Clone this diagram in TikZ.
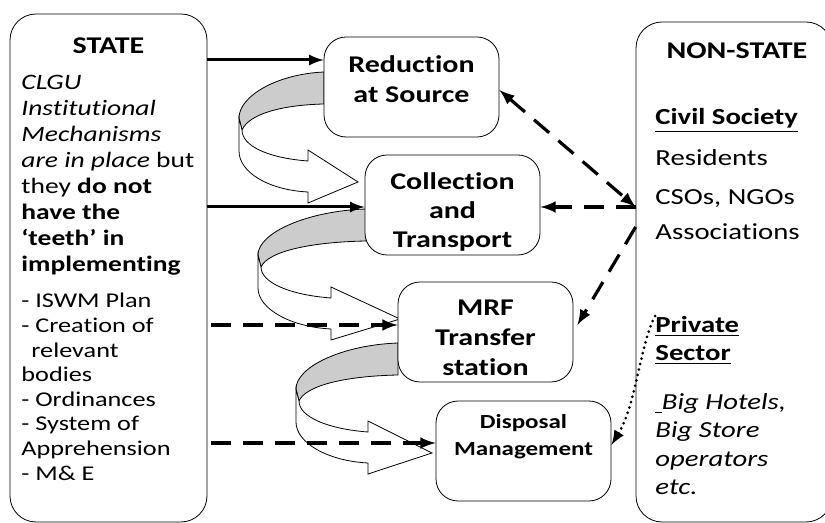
\documentclass[tikz,border=0pt]{standalone}
\usepackage{fontspec}
\setmainfont[FakeStretch=1.25,Ligatures=NoCommon]{Carlito}
\usetikzlibrary{positioning}

\tikzset{
  sidebox/.style={draw,thin,rounded corners=13pt,inner sep=0pt},
  stagebox/.style={draw,thin,fill=white,rounded corners=11pt,minimum width=87.5pt,minimum height=50pt,inner sep=0pt},
  stagetext/.style={align=center,inner sep=0pt,font=\bfseries\fontsize{12}{15}\selectfont},
  bodytext/.style={align=left,inner sep=0pt,font=\fontsize{11}{13}\selectfont},
  link/.style={-latex,line width=1.5pt},
  dashlink/.style={-latex,line width=1.6pt,dash pattern=on 10pt off 6pt},
  dotlink/.style={-latex,line width=1.5pt,line cap=round,dash pattern=on 0pt off 2.8pt},
  band/.style={fill=black!20,draw=black,thin},
  face/.style={fill=white,draw=black,thin}
}

% curled arrow from the left side of one box to the next one
\newcommand{\ribbon}[4]{%
  \draw[band] (#1,#2) .. controls ({#1-0.55*#3},{#2+2}) and ({#1-#3},{#2+24}) .. ({#1-#3},{#2+46})
    -- ({#1-#3+3},{#2+58}) .. controls ({#1-#3+10},{#2+42}) and ({#1-0.5*#3},{#2+33}) .. (#1,{#2+32}) -- cycle;
  \draw[face] ({#1-#3},{#2+46}) -- ({#1-#3},{#2+79})
    .. controls ({#1-#3},{#2+100}) and ({#1+#4-40},{#2+118}) .. ({#1+#4},{#2+120})
    -- ({#1+#4},{#2+131}) -- ({#1+34},{#2+110}) -- ({#1+#4},{#2+78}) -- ({#1+#4},{#2+89})
    .. controls ({#1+#4-40},{#2+86}) and ({#1-#3+3},{#2+74}) .. ({#1-#3+3},{#2+58}) -- cycle;
}

\begin{document}
\begin{tikzpicture}[x=0.5pt,y=-0.5pt]
  \useasboundingbox (0,0) rectangle (825,523);

  % curled arrows between the stages
  \ribbon{324}{72}{85}{-16}
  \ribbon{366}{209}{108}{-35}
  \ribbon{398}{343}{102}{-30}

  % side boxes
  \node[sidebox,minimum width=98.5pt,minimum height=254pt] (state) at (108.5,268) {};
  \node[sidebox,minimum width=98pt,minimum height=250pt] (nonst) at (734,272) {};

  % stages
  \node[stagebox] (red) at (411.5,87) {};
  \node[stagebox] (col) at (452.5,205) {};
  \node[stagebox] (mrf) at (485.5,332) {};
  \node[stagebox] (disp) at (523.5,451) {};
  \node[stagetext] (redtxt) at (411.5,79) {Reduction\\at Source};
  \node[stagetext,font=\bfseries\fontsize{12}{14.5}\selectfont] (coltxt) at (452.5,212) {Collection\\and\\Transport};
  \node[stagetext] (mrftxt) at (485.5,338) {MRF\\Transfer\\station};
  \node[stagetext,font=\bfseries\fontsize{10}{13.5}\selectfont] (disptxt) at (523.5,437) {Disposal\\Management};

  % state side
  \node[font=\bfseries\fontsize{12}{14}\selectfont] (statehd) at (108.5,46) {STATE};
  \node[bodytext,anchor=north west] (statetxt) at (21,75)
    {\textit{CLGU}\\\textit{Institutional}\\\textit{Mechanisms}\\\textit{are in place} but\\they \textbf{do not}\\\textbf{have the}\\\textbf{‘teeth’ in}\\\textbf{implementing}};
  \node[bodytext,anchor=north west,font=\fontsize{10.5}{12.3}\selectfont] (statelist) at (21,293)
    {- ISWM Plan\\- Creation of\\\hspace*{5pt}relevant\\bodies\\- Ordinances\\- System of\\Apprehension\\- M\& E};

  % non-state side
  \node[font=\bfseries\fontsize{12}{14}\selectfont] (nonsthd) at (737,51) {NON-STATE};
  \node[bodytext,anchor=base west,font=\bfseries\fontsize{11.5}{14}\selectfont] (civil) at (655,125) {\underline{Civil Society}};
  \node[bodytext,anchor=base west,font=\fontsize{11.5}{14}\selectfont] (resid) at (655,166) {Residents};
  \node[bodytext,anchor=base west,font=\fontsize{11.5}{14}\selectfont] (cso) at (655,205) {CSOs, NGOs};
  \node[bodytext,anchor=base west,font=\fontsize{11.5}{14}\selectfont] (assoc) at (655,240) {Associations};
  \node[bodytext,anchor=north west,font=\bfseries\fontsize{11.5}{14}\selectfont] (priv) at (655,316) {\underline{Private}\\\underline{Sector}};
  \node[bodytext,anchor=north west,font=\itshape\fontsize{11.5}{14.25}\selectfont] (big) at (655,393) {\underline{\ }Big Hotels,\\Big Store\\operators\\etc.};

  % links from the state
  \draw[link] (state.east |- 0,60) -- (red.west |- 0,60);
  \draw[link] (state.east |- 0,207) -- (col.west |- 0,207);
  \draw[dashlink] ([xshift=2pt]state.east |- 0,325) -- (mrf.west |- 0,325);
  \draw[dashlink] ([xshift=2pt]state.east |- 0,443) -- (disp.west |- 0,443);

  % links from the non-state side
  \coordinate (hub) at (nonst.west |- 0,207);
  \draw[dashlink,latex-latex] (red.east |- 0,90) -- (hub);
  \draw[dashlink] (hub) -- (col.east |- 0,207);
  \draw[dashlink] (nonst.west |- 0,227) -- ([xshift=2pt]mrf.east |- 0,325);
  \draw[dotlink] (priv.north west) .. controls (640,345) and (636,405) .. (disp.east |- 0,445);
\end{tikzpicture}
\end{document}
